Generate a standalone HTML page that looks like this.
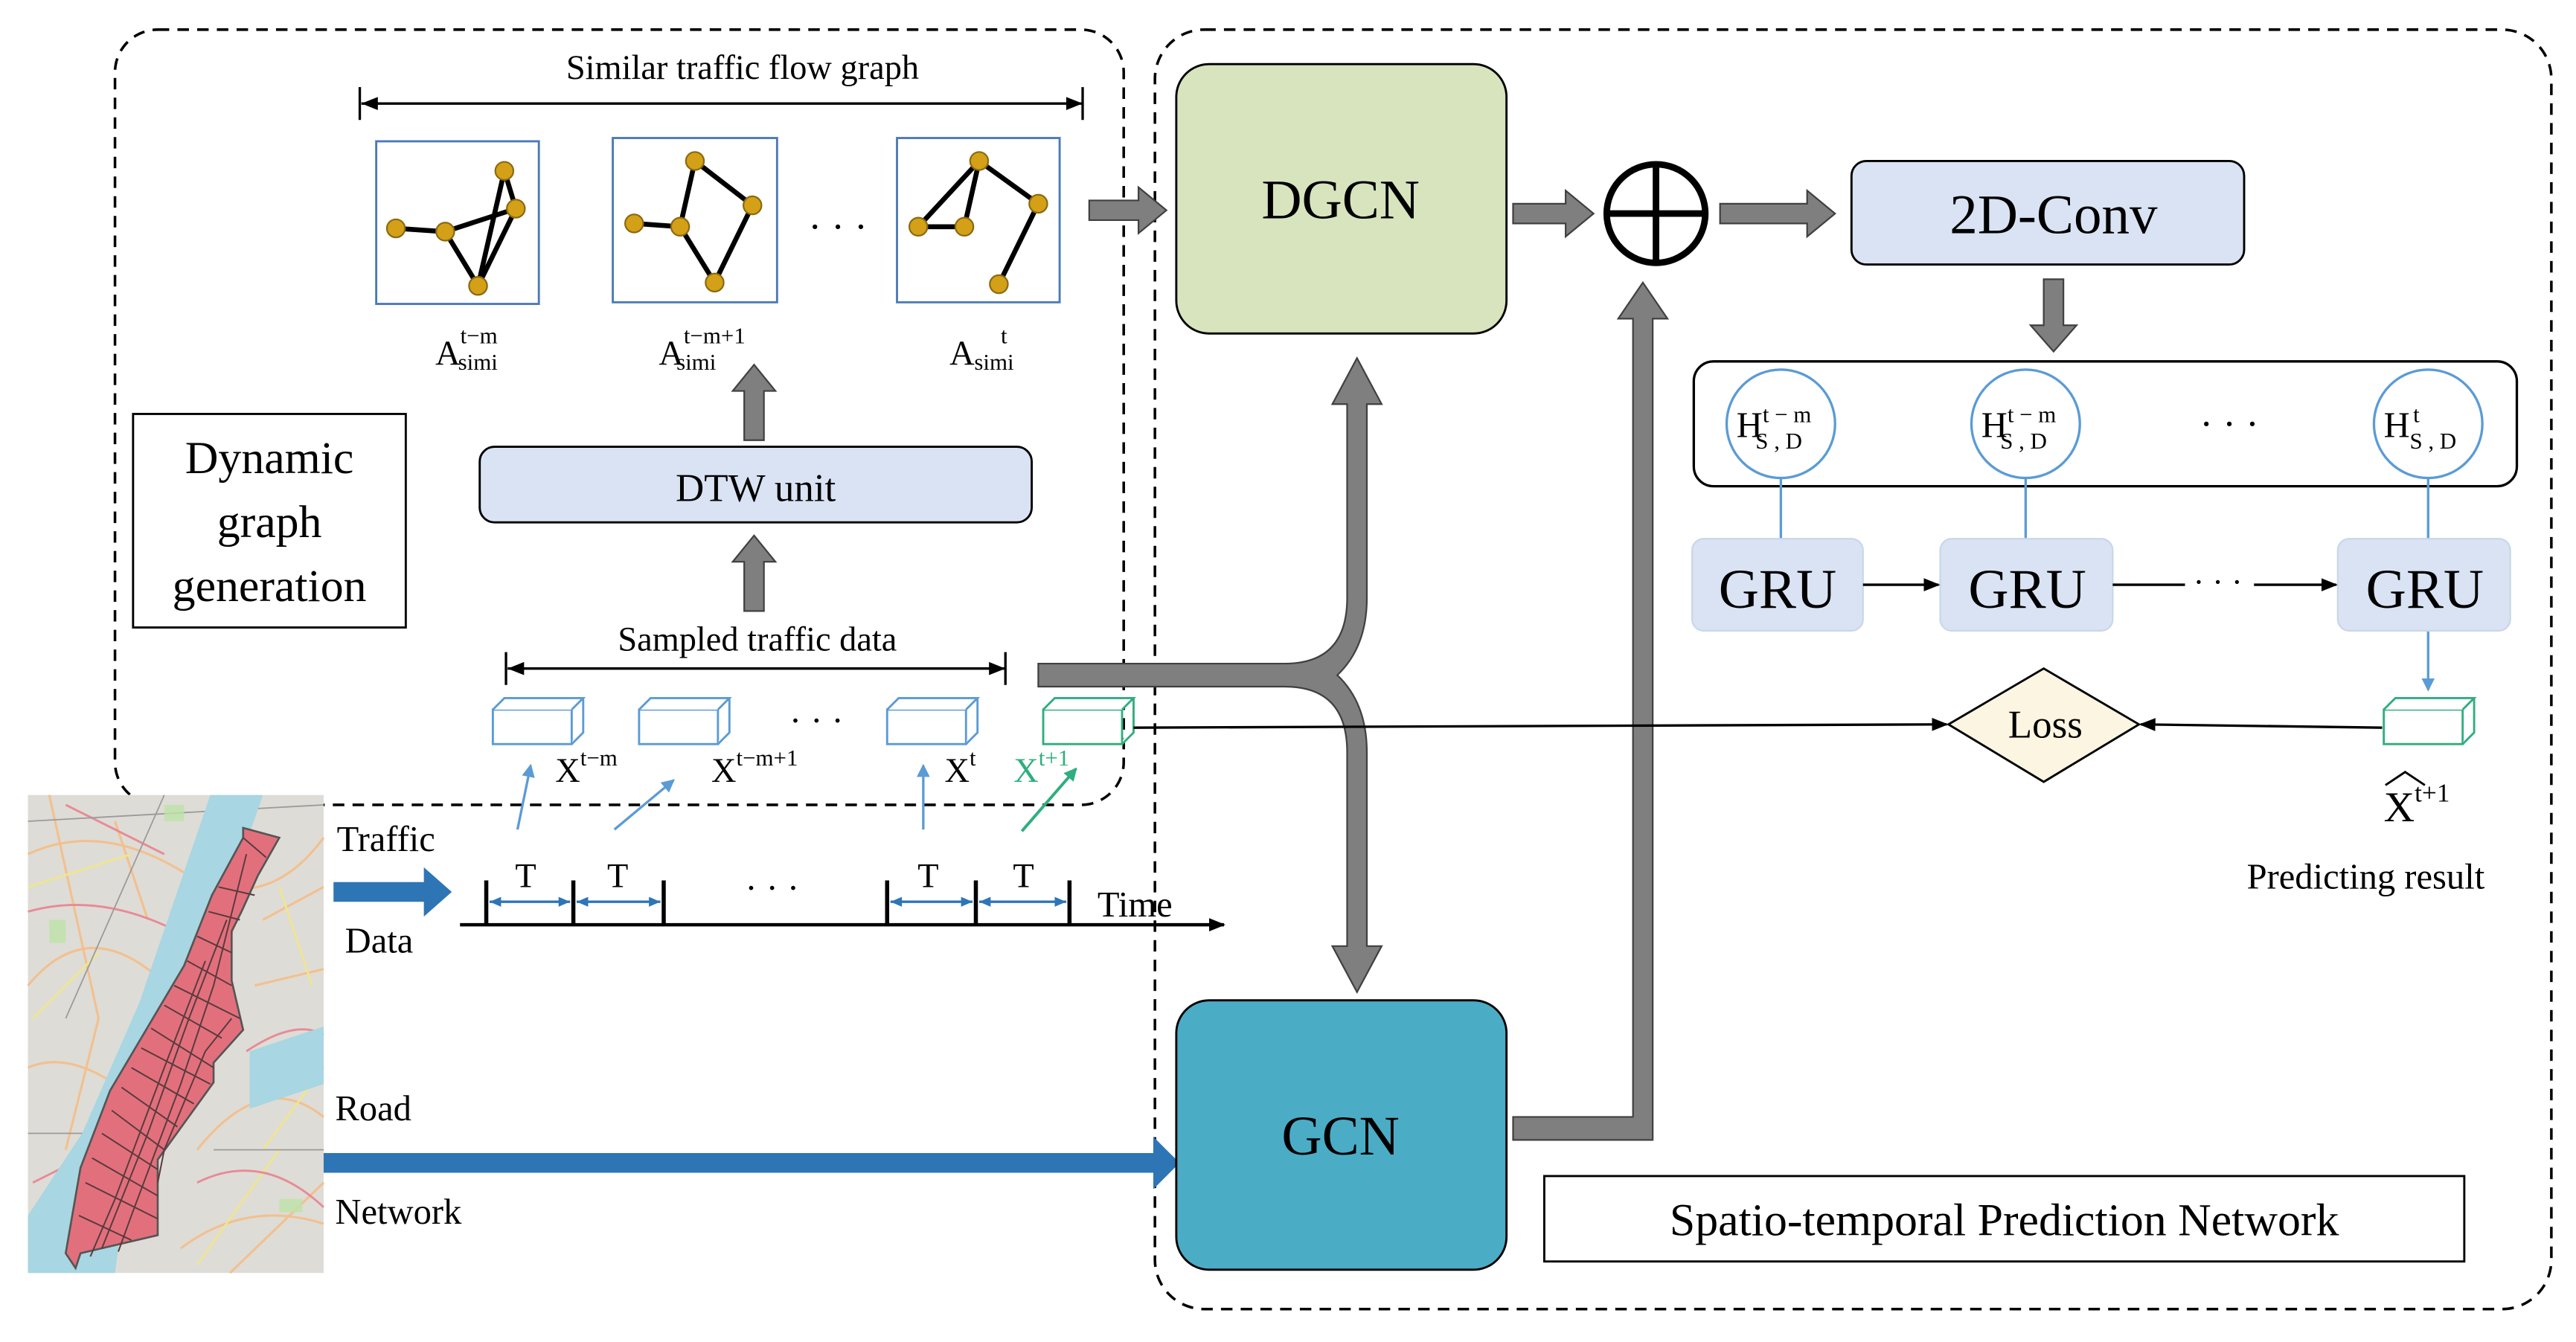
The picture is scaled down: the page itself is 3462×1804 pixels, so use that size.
<!DOCTYPE html>
<html><head><meta charset="utf-8"><style>
html,body{margin:0;padding:0;background:#fff;}
svg{display:block;}
svg text{font-family:"Liberation Serif","DejaVu Serif",serif !important;fill:#000;}
</style></head><body>
<svg width="3462" height="1804" viewBox="0 0 1568 817" xmlns="http://www.w3.org/2000/svg" font-family="Liberation Serif, serif">
<defs>
<marker id="ab" markerWidth="10" markerHeight="10" refX="9" refY="5" orient="auto" markerUnits="userSpaceOnUse"><path d="M0,1 L10,5 L0,9 z" fill="#000"/></marker>
<marker id="ablue" markerWidth="8" markerHeight="8" refX="7" refY="4" orient="auto" markerUnits="userSpaceOnUse"><path d="M0,0 L8,4 L0,8 z" fill="#5b9bd5"/></marker>
<marker id="agreen" markerWidth="8" markerHeight="8" refX="7" refY="4" orient="auto" markerUnits="userSpaceOnUse"><path d="M0,0 L8,4 L0,8 z" fill="#2fae7e"/></marker>
</defs>

<rect x="70" y="18" width="614" height="472" rx="26" fill="none" stroke="#000" stroke-width="1.6" stroke-dasharray="7,5"/>
<rect x="703" y="18" width="850" height="779" rx="30" fill="none" stroke="#000" stroke-width="1.6" stroke-dasharray="7,5"/>

<text x="452" y="48" font-size="21" text-anchor="middle">Similar traffic flow graph</text>
<line x1="220" y1="63" x2="659" y2="63" stroke="#000" stroke-width="1.5"/>
<line x1="219" y1="53" x2="219" y2="73" stroke="#000" stroke-width="1.5"/>
<line x1="659" y1="53" x2="659" y2="73" stroke="#000" stroke-width="1.5"/>
<path d="M220,63 l10,-4 v8z M659,63 l-10,-4 v8z" fill="#000"/>

<g stroke="#4a7ab8" stroke-width="1.3" fill="#fff">
<rect x="229" y="86" width="99" height="99"/>
<rect x="373" y="84" width="100" height="100"/>
<rect x="546" y="84" width="99" height="100"/>
</g>
<g stroke="#000" stroke-width="3" fill="none">
<path d="M241,139 L271,141 L291,174 L314,127 L307,104 L291,174 M271,141 L314,127"/>
<path d="M386,136 L414,138 L423,98 L458,125 L435,172 L414,138"/>
<path d="M559,138 L587,138 L596,98 L632,124 L608,173 M559,138 L596,98 M587,138 L596,98"/>
</g>
<g fill="#d4a017" stroke="#8a6a10" stroke-width="1">
<circle cx="241" cy="139" r="5.5"/><circle cx="271" cy="141" r="5.5"/><circle cx="291" cy="174" r="5.5"/><circle cx="314" cy="127" r="5.5"/><circle cx="307" cy="104" r="5.5"/>
<circle cx="386" cy="136" r="5.5"/><circle cx="414" cy="138" r="5.5"/><circle cx="423" cy="98" r="5.5"/><circle cx="458" cy="125" r="5.5"/><circle cx="435" cy="172" r="5.5"/>
<circle cx="559" cy="138" r="5.5"/><circle cx="587" cy="138" r="5.5"/><circle cx="596" cy="98" r="5.5"/><circle cx="632" cy="124" r="5.5"/><circle cx="608" cy="173" r="5.5"/>
</g>
<text x="510" y="146" font-size="24" text-anchor="middle">· · ·</text>

<text x="265" y="222" font-size="21">A<tspan font-size="14" dy="-13">t−m</tspan><tspan font-size="14" dx="-24" dy="16">simi</tspan></text>
<text x="401" y="222" font-size="21">A<tspan font-size="14" dy="-13">t−m+1</tspan><tspan font-size="14" dx="-42" dy="16">simi</tspan></text>
<text x="578" y="222" font-size="21">A<tspan font-size="14" dy="-13" dx="16">t</tspan><tspan font-size="14" dx="-20" dy="16">simi</tspan></text>

<g fill="#7f7f7f" stroke="#404040" stroke-width="1">
<path d="M453,268 v-30 h-7 l13,-16 l13,16 h-7 v30 z"/>
<path d="M453,372 v-30 h-7 l13,-16 l13,16 h-7 v30 z"/>
</g>

<rect x="292" y="272" width="336" height="46" rx="9" fill="#dae3f3" stroke="#000" stroke-width="1.3"/>
<text x="460" y="305" font-size="24" text-anchor="middle">DTW unit</text>

<rect x="81" y="252" width="166" height="130" fill="#fff" stroke="#000" stroke-width="1.3"/>
<text x="164" y="288" font-size="28" text-anchor="middle">Dynamic</text>
<text x="164" y="327" font-size="28" text-anchor="middle">graph</text>
<text x="164" y="366" font-size="28" text-anchor="middle">generation</text>

<text x="461" y="396" font-size="21" text-anchor="middle">Sampled traffic data</text>
<line x1="309" y1="407" x2="612" y2="407" stroke="#000" stroke-width="1.5"/>
<line x1="308" y1="397" x2="308" y2="417" stroke="#000" stroke-width="1.5"/>
<line x1="612" y1="397" x2="612" y2="417" stroke="#000" stroke-width="1.5"/>
<path d="M309,407 l10,-4 v8z M612,407 l-10,-4 v8z" fill="#000"/>

<g fill="#fff" stroke="#5b9bd5" stroke-width="1.3">
<g transform="translate(300,425)"><rect x="0" y="7" width="48" height="21"/><path d="M0,7 L7,0 L55,0 L48,7 M48,28 L55,21 L55,0"/></g>
<g transform="translate(389,425)"><rect x="0" y="7" width="48" height="21"/><path d="M0,7 L7,0 L55,0 L48,7 M48,28 L55,21 L55,0"/></g>
<g transform="translate(540,425)"><rect x="0" y="7" width="48" height="21"/><path d="M0,7 L7,0 L55,0 L48,7 M48,28 L55,21 L55,0"/></g>
</g>
<g fill="#fff" stroke="#2fae7e" stroke-width="1.3">
<g transform="translate(635,425)"><rect x="0" y="7" width="48" height="21"/><path d="M0,7 L7,0 L55,0 L48,7 M48,28 L55,21 L55,0"/></g>
<g transform="translate(1451,425)"><rect x="0" y="7" width="48" height="21"/><path d="M0,7 L7,0 L55,0 L48,7 M48,28 L55,21 L55,0"/></g>
</g>
<text x="497" y="446" font-size="22" text-anchor="middle">· · ·</text>

<text x="338" y="476" font-size="21">X<tspan font-size="14" dy="-10">t−m</tspan></text>
<text x="433" y="476" font-size="21">X<tspan font-size="14" dy="-10">t−m+1</tspan></text>
<text x="575" y="476" font-size="21">X<tspan font-size="14" dy="-10">t</tspan></text>
<text x="617" y="476" font-size="21" style="fill:#2fae7e">X<tspan font-size="14" dy="-10" style="fill:#2fae7e">t+1</tspan></text>

<g stroke="#5b9bd5" stroke-width="1.5">
<line x1="315" y1="505" x2="323" y2="466" marker-end="url(#ablue)"/>
<line x1="374" y1="505" x2="410" y2="475" marker-end="url(#ablue)"/>
<line x1="562" y1="505" x2="562" y2="466" marker-end="url(#ablue)"/>
</g>
<line x1="622" y1="506" x2="655" y2="468" stroke="#2fae7e" stroke-width="1.8" marker-end="url(#agreen)"/>

<text x="205" y="518" font-size="22">Traffic</text>
<text x="210" y="580" font-size="22">Data</text>
<path d="M203,537 h55 v-9 l17,15 l-17,15 v-9 h-55z" fill="#2e75b6"/>
<line x1="280" y1="563" x2="745" y2="563" stroke="#000" stroke-width="2" marker-end="url(#ab)"/>
<g stroke="#000" stroke-width="2.5">
<line x1="296" y1="536" x2="296" y2="563"/><line x1="349" y1="536" x2="349" y2="563"/><line x1="404" y1="536" x2="404" y2="563"/>
<line x1="540" y1="536" x2="540" y2="563"/><line x1="594" y1="536" x2="594" y2="563"/><line x1="651" y1="536" x2="651" y2="563"/>
</g>
<g stroke="#2e75b6" stroke-width="1.5">
<line x1="298" y1="549" x2="347" y2="549"/><line x1="351" y1="549" x2="402" y2="549"/>
<line x1="542" y1="549" x2="592" y2="549"/><line x1="596" y1="549" x2="649" y2="549"/>
</g>
<path d="M298,549 l7,-3 v6z M347,549 l-7,-3 v6z M351,549 l7,-3 v6z M402,549 l-7,-3 v6z M542,549 l7,-3 v6z M592,549 l-7,-3 v6z M596,549 l7,-3 v6z M649,549 l-7,-3 v6z" fill="#2e75b6"/>
<text x="320" y="540" font-size="21" text-anchor="middle">T</text>
<text x="376" y="540" font-size="21" text-anchor="middle">T</text>
<text x="565" y="540" font-size="21" text-anchor="middle">T</text>
<text x="623" y="540" font-size="21" text-anchor="middle">T</text>
<text x="470" y="548" font-size="22" text-anchor="middle">· · ·</text>
<text x="668" y="558" font-size="22">Time</text>

<!-- map -->
<rect x="17" y="484" width="180" height="291" fill="#dedcd6"/>
<g stroke="#f2c08f" stroke-width="1.4" fill="none">
<path d="M17,520 Q60,500 110,530 T197,510"/><path d="M17,600 Q50,560 90,590 T150,540"/><path d="M30,484 L60,620 L40,700"/>
<path d="M120,700 Q160,650 197,680"/><path d="M140,775 L197,720"/><path d="M17,650 Q40,640 70,660"/>
<path d="M160,560 L197,540"/><path d="M155,600 L197,590"/><path d="M110,760 Q150,730 197,745"/><path d="M70,500 L90,560"/>
</g>
<g stroke="#f0e68c" stroke-width="1.2" fill="none">
<path d="M17,540 L80,520"/><path d="M20,620 L60,580"/><path d="M160,700 L197,650"/><path d="M120,770 L170,700"/><path d="M170,540 L190,600"/>
</g>
<g stroke="#e88a96" stroke-width="1.3" fill="none">
<path d="M17,555 Q70,540 130,580"/><path d="M150,640 Q180,620 197,630"/><path d="M20,720 L60,700"/><path d="M120,720 Q160,700 197,735"/><path d="M40,490 L100,520"/>
</g>
<g stroke="#9a9a9a" stroke-width="0.8" fill="none">
<path d="M17,500 L197,490"/><path d="M17,690 L60,690"/><path d="M130,700 L197,700"/><path d="M100,484 L40,620"/>
</g>
<g fill="#bde3a8" opacity="0.8"><rect x="30" y="560" width="10" height="14"/><rect x="100" y="490" width="12" height="10"/><rect x="170" y="730" width="14" height="8"/></g>
<path d="M128,484 L160,484 L120,600 L80,700 L70,775 L17,775 L17,740 L50,690 L85,610 z" fill="#a8d6e2"/>
<path d="M152,640 L197,625 L197,660 L152,675 z" fill="#a8d6e2"/>
<path d="M148,504 L170,510 L157,533 L147,555 L141,567 L141,597 L148,627 L130,647 L130,659 L96,706 L96,752 L49,763 L46,772 L40,763 L49,711 L67,664 L112,588 L129,545 L148,510 z" fill="#e2707c" stroke="#555" stroke-width="1.2"/>
<g stroke="#5a3a3e" stroke-width="0.9" fill="none">
<path d="M148,510 L162,522 M133,540 L155,545 M127,555 L146,560 M120,570 L141,580 M114,585 L141,600 M106,600 L146,620 M100,612 L135,632 M92,626 L130,650 M86,638 L128,660 M80,650 L118,672 M74,662 L108,686 M68,676 L100,700 M62,690 L96,712 M56,705 L96,728 M52,720 L96,742 M48,740 L80,755"/>
<path d="M150,520 L130,600 L110,660 L80,740 L72,762 M138,560 L115,620 L90,690 L62,760 M125,585 L100,650 L70,730 L55,765 M141,620 L125,640 L100,700 L96,720"/>
</g>

<text x="204" y="682" font-size="22">Road</text>
<text x="204" y="745" font-size="22">Network</text>
<path d="M197,702 h505 v-10 l16,16 l-16,16 v-10 h-505z" fill="#2e75b6"/>

<rect x="716" y="39" width="201" height="164" rx="20" fill="#d7e4bd" stroke="#000" stroke-width="1.3"/>
<text x="816" y="133" font-size="34" text-anchor="middle">DGCN</text>
<rect x="716" y="609" width="201" height="164" rx="20" fill="#4bacc6" stroke="#000" stroke-width="1.3"/>
<text x="816" y="703" font-size="34" text-anchor="middle">GCN</text>

<g fill="#7f7f7f" stroke="#404040" stroke-width="1">
<path d="M663,122 h30 v-8 l17,14 l-17,14 v-8 h-30z"/>
<path d="M921,124 h32 v-8 l17,14 l-17,14 v-8 h-32z"/>
<path d="M1047,124 h53 v-8 l17,14 l-17,14 v-8 h-53z"/>
<path d="M1244,170 v28 h-8 l14,16 l14,-16 h-8 v-28z"/>
<path d="M921,680 h73 v-486 h-9 l15,-22 l15,22 h-9 v500 h-85z"/>
<path d="M632,404 h150 q38,0 38,-40 v-118 h-9 l15,-28 l15,28 h-9 v118 q0,30 -18,47 q18,17 18,47 v118 h9 l-15,28 l-15,-28 h9 v-118 q0,-40 -38,-40 h-150z"/>
</g>

<circle cx="1008" cy="130" r="30" fill="#fff" stroke="#000" stroke-width="4"/>
<line x1="978" y1="130" x2="1038" y2="130" stroke="#000" stroke-width="4"/>
<line x1="1008" y1="100" x2="1008" y2="160" stroke="#000" stroke-width="4"/>

<rect x="1127" y="98" width="239" height="63" rx="9" fill="#dae3f3" stroke="#000" stroke-width="1.3"/>
<text x="1250" y="142" font-size="34" text-anchor="middle">2D-Conv</text>

<rect x="1031" y="220" width="501" height="76" rx="12" fill="#fff" stroke="#000" stroke-width="1.5"/>
<g stroke="#5b9bd5" stroke-width="1.5">
<line x1="1084" y1="291" x2="1084" y2="328"/><line x1="1233" y1="291" x2="1233" y2="328"/><line x1="1478" y1="291" x2="1478" y2="328"/>
<line x1="1478" y1="384" x2="1478" y2="420" marker-end="url(#ablue)"/>
</g>
<g fill="#fff" stroke="#5b9bd5" stroke-width="1.5">
<circle cx="1084" cy="258" r="33"/><circle cx="1233" cy="258" r="33"/><circle cx="1478" cy="258" r="33"/>
</g>
<text x="1057" y="266" font-size="22">H<tspan font-size="14" dy="-9">t − m</tspan><tspan font-size="14" dx="-34" dy="16">S , D</tspan></text>
<text x="1206" y="266" font-size="22">H<tspan font-size="14" dy="-9">t − m</tspan><tspan font-size="14" dx="-34" dy="16">S , D</tspan></text>
<text x="1451" y="266" font-size="22">H<tspan font-size="14" dy="-9" dx="2">t</tspan><tspan font-size="14" dx="-6" dy="16">S , D</tspan></text>
<text x="1357" y="266" font-size="24" text-anchor="middle">· · ·</text>

<g fill="#dae3f3" stroke="#c9d6ea" stroke-width="1">
<rect x="1030" y="328" width="104" height="56" rx="7"/><rect x="1181" y="328" width="105" height="56" rx="7"/><rect x="1423" y="328" width="105" height="56" rx="7"/>
</g>
<text x="1082" y="370" font-size="34" text-anchor="middle">GRU</text>
<text x="1234" y="370" font-size="34" text-anchor="middle">GRU</text>
<text x="1476" y="370" font-size="34" text-anchor="middle">GRU</text>
<line x1="1134" y1="356" x2="1180" y2="356" stroke="#000" stroke-width="1.5" marker-end="url(#ab)"/>
<line x1="1286" y1="356" x2="1330" y2="356" stroke="#000" stroke-width="1.5"/>
<text x="1350" y="361" font-size="20" text-anchor="middle">· · ·</text>
<line x1="1372" y1="356" x2="1422" y2="356" stroke="#000" stroke-width="1.5" marker-end="url(#ab)"/>

<path d="M1186,441 L1244,407 L1302,441 L1244,476 z" fill="#fbf5e1" stroke="#000" stroke-width="1.3"/>
<text x="1245" y="449" font-size="24" text-anchor="middle">Loss</text>
<line x1="690" y1="443" x2="1185" y2="441" stroke="#000" stroke-width="1.5" marker-end="url(#ab)"/>
<line x1="1450" y1="443" x2="1303" y2="441" stroke="#000" stroke-width="1.5" marker-end="url(#ab)"/>

<text x="1451" y="500" font-size="26">X<tspan font-size="16" dy="-12">t+1</tspan></text>
<path d="M1452,478 L1464,470 L1476,478" fill="none" stroke="#000" stroke-width="1.3"/>
<text x="1440" y="541" font-size="22" text-anchor="middle">Predicting result</text>

<rect x="940" y="716" width="560" height="52" fill="#fff" stroke="#000" stroke-width="1.3"/>
<text x="1220" y="752" font-size="28" text-anchor="middle">Spatio-temporal Prediction Network</text>
</svg>
</body></html>
